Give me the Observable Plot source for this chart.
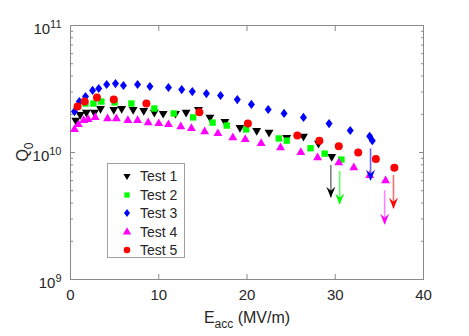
<!DOCTYPE html>
<html><head><meta charset="utf-8">
<script src="https://cdn.jsdelivr.net/npm/d3@7"></script>
<script src="https://cdn.jsdelivr.net/npm/@observablehq/plot@0.6"></script>
<style>
body{margin:0;background:#fff;font-family:"Liberation Sans",Arial,sans-serif;}
#chart{position:relative;width:469px;height:336px;}
#legend{position:absolute;left:107px;top:163px;width:78px;height:95px;border:1px solid #a0a0a0;background:#fff;box-sizing:border-box;}
.row{position:absolute;left:0;height:18px;display:flex;align-items:center;font-size:14px;color:#262626;}
.row svg{margin-left:12px;margin-right:6px;}
</style></head><body><div id="chart"><div id="legend"></div></div>
<script>
const testNames = ["Test 1","Test 2","Test 3","Test 4","Test 5"];
const testColors = ["#000000","#00ff00","#0000ff","#ff00ff","#ff0000"];
const shaftColors = ["#808080","#66ff66","#6464ff","#ff82ff","#ff7070"];

const test1E = [0.6,1.1,1.8,2.7,3.4,4.9,5.8,7.1,8.3,9.5,10.5,11.9,13.1,14.5,15.8,17.5,19.2,21.1,22.5,24.5,26.4,28.1,29.6];
const test1Q = [1.79e10,1.99e10,2.07e10,2.07e10,2.22e10,2.18e10,2.22e10,2.18e10,2.14e10,2.07e10,2.03e10,2.03e10,2.07e10,2.18e10,1.89e10,1.75e10,1.57e10,1.49e10,1.44e10,1.31e10,1.34e10,1.18e10,9.3e9];

const test2E = [1.7,2.6,3.5,5.0,6.9,9.5,11.7,13.9,16.1,17.7,19.9,23.6,24.5,27.2,28.8,30.7];
const test2Q = [2.43e10,2.43e10,2.52e10,2.48e10,2.43e10,2.22e10,2.03e10,1.89e10,1.72e10,1.63e10,1.52e10,1.29e10,1.24e10,1.08e10,9.8e9,8.8e9];

const test3E = [0.45,1.0,1.7,2.5,3.2,4.1,5.1,6.0,7.6,9.0,11.1,12.6,13.8,15.4,17.0,18.9,20.5,22.4,24.2,26.4,29.3,31.7,33.9,34.2];
const test3Q = [2.10e10,2.52e10,2.76e10,3.08e10,3.19e10,3.43e10,3.49e10,3.37e10,3.43e10,3.31e10,3.25e10,3.13e10,3.02e10,2.91e10,2.81e10,2.61e10,2.39e10,2.18e10,2.03e10,1.89e10,1.69e10,1.49e10,1.34e10,1.24e10];

const test4E = [0.45,0.9,1.5,2.0,2.8,4.2,5.2,6.5,7.6,8.8,10.0,11.1,12.5,13.7,15.2,16.7,18.4,19.8,21.6,23.8,26.1,28.0,30.4,32.1,33.9,35.7];
const test4Q = [1.52e10,1.66e10,1.79e10,1.82e10,1.89e10,1.85e10,1.85e10,1.79e10,1.79e10,1.72e10,1.69e10,1.66e10,1.60e10,1.55e10,1.46e10,1.41e10,1.31e10,1.27e10,1.18e10,1.09e10,1.0e10,9.1e9,8.3e9,7.6e9,6.6e9,6.0e9];

const test5E = [0.8,1.6,3.0,4.9,8.6,14.6,20.1,25.7,28.2,30.4,32.6,34.6,36.7];
const test5Q = [2.30e10,2.52e10,2.71e10,2.61e10,2.43e10,2.07e10,1.69e10,1.36e10,1.24e10,1.12e10,1.0e10,8.9e9,7.6e9];

// quench arrows (one per test)
const arrowE = [29.5,30.5,34.0,35.6,36.6];
const arrowFrom = [7.9e9,7.1e9,1.07e10,5.0e9,6.6e9];
const arrowTo = [4.4e9,3.9e9,6.0e9,2.7e9,3.6e9];

const xTicks = [0,10,20,30,40];
const yMajor = [1e9,1e10,1e11];
const yMinor = [2e9,3e9,4e9,5e9,6e9,7e9,8e9,9e9,2e10,3e10,4e10,5e10,6e10,7e10,8e10,9e10];

const series = [
  {E:test1E,Q:test1Q},{E:test2E,Q:test2Q},{E:test3E,Q:test3Q},{E:test4E,Q:test4Q},{E:test5E,Q:test5Q}
];
const rows = series.map((s,i)=>s.E.map((e,j)=>({E:e,Q:s.Q[j],test:testNames[i]})));
const arrows = arrowE.map((e,i)=>({E:e,from:arrowFrom[i],to:arrowTo[i],test:testNames[i]}));

const diamondSym = {draw(ctx){ctx.moveTo(0,-4.6);ctx.lineTo(3.5,0);ctx.lineTo(0,4.6);ctx.lineTo(-3.5,0);ctx.closePath();}};
const headSym = {draw(ctx){ctx.moveTo(0,0);ctx.lineTo(-4.5,-11);ctx.lineTo(0,-7);ctx.lineTo(4.5,-11);ctx.closePath();}};
const symOpts = [
  {symbol:"triangle", r:3.3, rotate:180},
  {symbol:"square", r:3.6},
  {symbol:diamondSym, r:4},
  {symbol:"triangle", r:3.3},
  {symbol:"circle", r:4}
];
const gray = "#8a8a8a";
const fmtY = d => "10^" + Math.round(Math.log10(d));

const plot = Plot.plot({
  width:469, height:336,
  marginLeft:70, marginRight:46, marginTop:25, marginBottom:57,
  style:{fontFamily:"'Liberation Sans', Arial, sans-serif", fontSize:"15px", color:"#262626", background:"transparent", overflow:"visible"},
  x:{domain:[0,40]},
  y:{type:"log", domain:[1e9,1e11]},
  marks:[
    Plot.frame({stroke:gray}),
    Plot.axisX(xTicks,{anchor:"bottom", tickSize:-5, stroke:gray, tickFormat:()=>"", label:null}),
    Plot.axisX(xTicks,{anchor:"top", tickSize:-5, stroke:gray, tickFormat:()=>"", label:null}),
    Plot.axisX(xTicks,{anchor:"bottom", tickSize:0, tickPadding:10, label:null, fill:"#262626", tickFormat:d=>String(d)}),
    Plot.axisY(yMajor,{anchor:"left", tickSize:-5, stroke:gray, tickFormat:()=>"", label:null}),
    Plot.axisY(yMinor,{anchor:"left", tickSize:-3, stroke:gray, tickFormat:()=>"", label:null}),
    Plot.axisY(yMajor,{anchor:"right", tickSize:-5, stroke:gray, tickFormat:()=>"", label:null}),
    Plot.axisY(yMinor,{anchor:"right", tickSize:-3, stroke:gray, tickFormat:()=>"", label:null}),
    Plot.axisY(yMajor,{anchor:"left", tickSize:0, tickPadding:9, dy:4, label:null, fill:"#262626", tickFormat:fmtY}),
    ...rows.map((r,i)=>Plot.dot(r,{x:"E", y:"Q", fill:testColors[i], stroke:"none", ...symOpts[i]})),
    ...arrows.map((a,i)=>Plot.ruleX([a],{x:"E", y1:"from", y2:"to", stroke:shaftColors[i], strokeWidth:1.6})),
    ...arrows.map((a,i)=>Plot.dot([a],{x:"E", y:"to", fill:testColors[i], stroke:"none", symbol:headSym, r:4}))
  ]
});

const svg = d3.select(plot);
// superscript tick labels
svg.selectAll("text").each(function(){
  const t = this.textContent;
  if (t.startsWith("10^")) {
    const e = t.slice(3);
    const s = d3.select(this);
    s.text("10");
    s.append("tspan").attr("dy","-0.6em").attr("font-size","11px").text(e);
  }
});
// axis titles
const xl = svg.append("text").attr("x",247).attr("y",323).attr("text-anchor","middle")
  .attr("font-size","16px").attr("fill","#262626");
xl.append("tspan").text("E");
xl.append("tspan").attr("dy","5").attr("font-size","12px").text("acc");
xl.append("tspan").attr("dy","-5").text(" (MV/m)");
const yl = svg.append("text").attr("transform","translate(28,152) rotate(-90)").attr("text-anchor","middle")
  .attr("font-size","16px").attr("fill","#262626");
yl.append("tspan").text("Q");
yl.append("tspan").attr("dy","5").attr("font-size","12px").text("0");

const chart = document.getElementById("chart");
chart.insertBefore(plot, chart.firstChild);
plot.style.position = "absolute"; plot.style.left = "0"; plot.style.top = "0";

// legend
const legend = d3.select("#legend");
const legSyms = [
  d3.symbol(d3.symbolTriangle, 22), d3.symbol(d3.symbolSquare, 28), null, d3.symbol(d3.symbolTriangle, 30), d3.symbol(d3.symbolCircle, 34)
];
testNames.forEach((name,i)=>{
  const row = legend.append("div").attr("class","row").style("top",(3 + i*18.5)+"px");
  const s = row.append("svg").attr("width",14).attr("height",14);
  let p;
  if (i === 2) p = "M0,-4L3,0L0,4L-3,0Z";
  else p = legSyms[i]();
  s.append("path").attr("d",p).attr("fill",testColors[i])
   .attr("transform", "translate(7,7)" + (i===0 ? " rotate(180)" : ""));
  row.append("span").text(name);
});
</script>
</body></html>
